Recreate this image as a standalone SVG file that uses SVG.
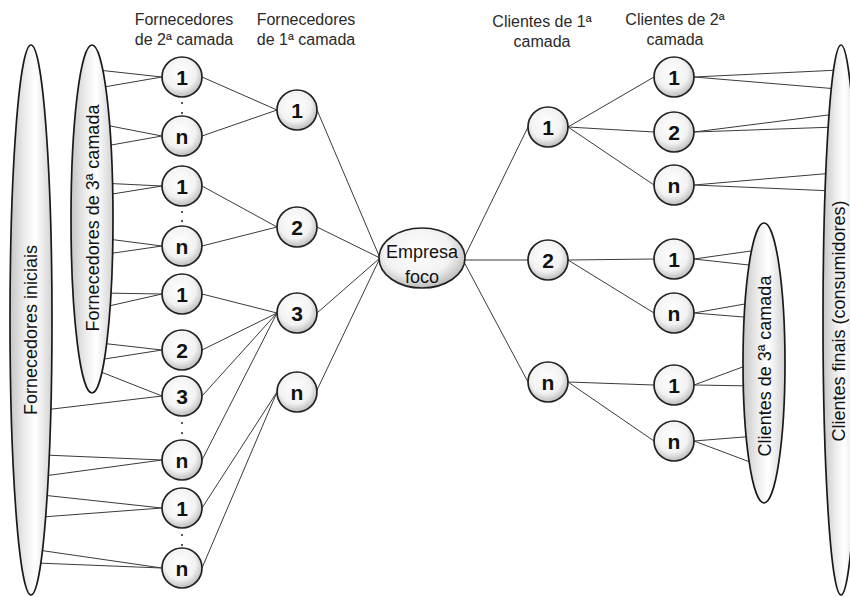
<svg xmlns="http://www.w3.org/2000/svg" width="850" height="597" viewBox="0 0 850 597">
  <defs>
    <radialGradient id="nodeFill" cx="45%" cy="40%" r="60%">
      <stop offset="0" stop-color="#ffffff"/>
      <stop offset="0.65" stop-color="#f2f2f2"/>
      <stop offset="1" stop-color="#bdbdbd"/>
    </radialGradient>
    <linearGradient id="bandFill" x1="0" y1="0" x2="1" y2="0">
      <stop offset="0" stop-color="#c6c6c6"/>
      <stop offset="0.35" stop-color="#ececec"/>
      <stop offset="0.6" stop-color="#ffffff"/>
      <stop offset="1" stop-color="#d2d2d2"/>
    </linearGradient>
    <style>
      .link { stroke: #3a3a3a; stroke-width: 1; fill: none; }
      .node { fill: url(#nodeFill); stroke: #222; stroke-width: 1.7; }
      .band { fill: url(#bandFill); stroke: #1a1a1a; stroke-width: 1.7; }
      .num { font-family: "Liberation Sans", Arial, sans-serif; font-weight: bold; font-size: 21px; fill: #111; text-anchor: middle; }
      .head { font-family: "Liberation Sans", Arial, sans-serif; font-size: 16px; fill: #2a2a2a; text-anchor: middle; }
      .bandtext { font-family: "Liberation Sans", Arial, sans-serif; font-size: 18px; fill: #111; text-anchor: middle; }
      .dot { fill: #222; }
    </style>
  </defs>

  <rect width="850" height="597" fill="#ffffff"/>

  <!-- column headings -->
  <g id="headings">
    <text class="head" x="184" y="25">Fornecedores</text>
    <text class="head" x="184" y="45">de 2ª camada</text>
    <text class="head" x="306" y="25">Fornecedores</text>
    <text class="head" x="306" y="45">de 1ª camada</text>
    <text class="head" x="542" y="27">Clientes de 1ª</text>
    <text class="head" x="542" y="47">camada</text>
    <text class="head" x="675" y="25">Clientes de 2ª</text>
    <text class="head" x="675" y="45">camada</text>
  </g>

  <!-- connectors (drawn first so shapes cover their ends) -->
  <g id="connectors" class="link">
    <!-- 3rd-tier / initial suppliers to 2nd-tier suppliers -->
    <path d="M98 70 L162 77 M98 88 L162 77"/>
    <path d="M100 124 L162 136 M100 147 L162 136"/>
    <path d="M100 183 L162 186 M100 196 L162 186"/>
    <path d="M100 238 L162 246 M100 255 L162 246"/>
    <path d="M100 293 L162 294 M100 308 L162 294"/>
    <path d="M100 343 L162 350 M98 360 L162 350"/>
    <path d="M96 370 L162 396 M44 410 L162 396"/>
    <path d="M44 455 L162 460 M44 476 L162 460"/>
    <path d="M42 495 L162 508 M42 517 L162 508"/>
    <path d="M38 550 L162 568 M36 563 L162 568"/>
    <!-- 2nd-tier to 1st-tier suppliers -->
    <path d="M202 77 L277 110 M202 136 L277 110"/>
    <path d="M202 186 L277 227 M202 246 L277 227"/>
    <path d="M202 294 L277 313 M202 350 L277 313 M202 396 L277 313 M202 460 L277 313"/>
    <path d="M202 508 L277 392 M202 568 L277 392"/>
    <!-- 1st-tier suppliers to focal company -->
    <path d="M317 110 L380 258 M317 227 L380 258 M317 313 L380 258 M317 390 L380 258"/>
    <!-- focal company to 1st-tier clients -->
    <path d="M464 258 L528 127 M464 260 L528 260 M464 262 L528 382"/>
    <!-- 1st-tier to 2nd-tier clients -->
    <path d="M568 127 L654 77 M568 127 L654 132 M568 127 L654 185"/>
    <path d="M568 260 L654 259 M568 260 L654 313"/>
    <path d="M568 382 L654 385 M568 382 L654 441"/>
    <!-- 2nd-tier clients to final consumers -->
    <path d="M694 77 L840 70 M694 77 L838 89"/>
    <path d="M694 132 L836 114 M694 132 L836 127"/>
    <path d="M694 185 L834 173 M694 185 L834 191"/>
    <!-- 2nd-tier clients to 3rd-tier clients -->
    <path d="M694 259 L758 250 M694 259 L758 266"/>
    <path d="M694 313 L756 302 M694 313 L756 318"/>
    <path d="M694 385 L756 362 M694 385 L756 386"/>
    <path d="M694 441 L756 436 M694 441 L758 465"/>
  </g>

  <!-- vertical "…" marks between node runs -->
  <g id="ellipsis-marks">
    <circle class="dot" cx="182" cy="103" r="1"/>
    <circle class="dot" cx="182" cy="113" r="1"/>
    <circle class="dot" cx="182" cy="212" r="1"/>
    <circle class="dot" cx="182" cy="221" r="1"/>
    <circle class="dot" cx="182" cy="423" r="1"/>
    <circle class="dot" cx="182" cy="433" r="1"/>
    <circle class="dot" cx="182" cy="535" r="1"/>
    <circle class="dot" cx="182" cy="545" r="1"/>
  </g>

  <!-- tall group bands -->
  <g id="fornecedores-iniciais">
    <ellipse class="band" cx="31" cy="320" rx="21" ry="275"/>
    <text class="bandtext" transform="translate(37,330) rotate(-90)">Fornecedores iniciais</text>
  </g>
  <g id="fornecedores-3a">
    <ellipse class="band" cx="92" cy="219" rx="21" ry="174"/>
    <text class="bandtext" transform="translate(99,218) rotate(-90)">Fornecedores de 3ª camada</text>
  </g>
  <g id="clientes-3a">
    <ellipse class="band" cx="764" cy="363" rx="21" ry="140"/>
    <text class="bandtext" transform="translate(771,366) rotate(-90)">Clientes de 3ª camada</text>
  </g>
  <g id="clientes-finais">
    <ellipse class="band" cx="841" cy="320" rx="18" ry="275"/>
    <text class="bandtext" transform="translate(845,321) rotate(-90)">Clientes finais (consumidores)</text>
  </g>

  <!-- 2nd-tier suppliers -->
  <g id="f2-1a"><circle class="node" cx="182" cy="77" r="20"/><text class="num" x="182" y="84.5">1</text></g>
  <g id="f2-na"><circle class="node" cx="182" cy="136" r="20"/><text class="num" x="182" y="143.5">n</text></g>
  <g id="f2-1b"><circle class="node" cx="182" cy="186" r="20"/><text class="num" x="182" y="193.5">1</text></g>
  <g id="f2-nb"><circle class="node" cx="182" cy="246" r="20"/><text class="num" x="182" y="253.5">n</text></g>
  <g id="f2-1c"><circle class="node" cx="182" cy="294" r="20"/><text class="num" x="182" y="301.5">1</text></g>
  <g id="f2-2c"><circle class="node" cx="182" cy="350" r="20"/><text class="num" x="182" y="357.5">2</text></g>
  <g id="f2-3c"><circle class="node" cx="182" cy="396" r="20"/><text class="num" x="182" y="403.5">3</text></g>
  <g id="f2-nc"><circle class="node" cx="182" cy="460" r="20"/><text class="num" x="182" y="467.5">n</text></g>
  <g id="f2-1d"><circle class="node" cx="182" cy="508" r="20"/><text class="num" x="182" y="515.5">1</text></g>
  <g id="f2-nd"><circle class="node" cx="182" cy="568" r="20"/><text class="num" x="182" y="575.5">n</text></g>

  <!-- 1st-tier suppliers -->
  <g id="f1-1"><circle class="node" cx="297" cy="110" r="20"/><text class="num" x="297" y="117.5">1</text></g>
  <g id="f1-2"><circle class="node" cx="297" cy="227" r="20"/><text class="num" x="297" y="234.5">2</text></g>
  <g id="f1-3"><circle class="node" cx="297" cy="313" r="20"/><text class="num" x="297" y="320.5">3</text></g>
  <g id="f1-n"><circle class="node" cx="297" cy="392" r="20"/><text class="num" x="297" y="399.5">n</text></g>

  <!-- focal company -->
  <g id="empresa-foco">
    <ellipse class="node" cx="422" cy="258" rx="43" ry="30" stroke-width="2"/>
    <text class="bandtext" x="422" y="258">Empresa</text>
    <text class="bandtext" x="422" y="283">foco</text>
  </g>

  <!-- 1st-tier clients -->
  <g id="c1-1"><circle class="node" cx="548" cy="127" r="20"/><text class="num" x="548" y="134.5">1</text></g>
  <g id="c1-2"><circle class="node" cx="548" cy="260" r="20"/><text class="num" x="548" y="267.5">2</text></g>
  <g id="c1-n"><circle class="node" cx="548" cy="382" r="20"/><text class="num" x="548" y="389.5">n</text></g>

  <!-- 2nd-tier clients -->
  <g id="c2-1a"><circle class="node" cx="674" cy="77" r="20"/><text class="num" x="674" y="84.5">1</text></g>
  <g id="c2-2a"><circle class="node" cx="674" cy="132" r="20"/><text class="num" x="674" y="139.5">2</text></g>
  <g id="c2-na"><circle class="node" cx="674" cy="185" r="20"/><text class="num" x="674" y="192.5">n</text></g>
  <g id="c2-1b"><circle class="node" cx="674" cy="259" r="20"/><text class="num" x="674" y="266.5">1</text></g>
  <g id="c2-nb"><circle class="node" cx="674" cy="313" r="20"/><text class="num" x="674" y="320.5">n</text></g>
  <g id="c2-1c"><circle class="node" cx="674" cy="385" r="20"/><text class="num" x="674" y="392.5">1</text></g>
  <g id="c2-nc"><circle class="node" cx="674" cy="441" r="20"/><text class="num" x="674" y="448.5">n</text></g>
</svg>
